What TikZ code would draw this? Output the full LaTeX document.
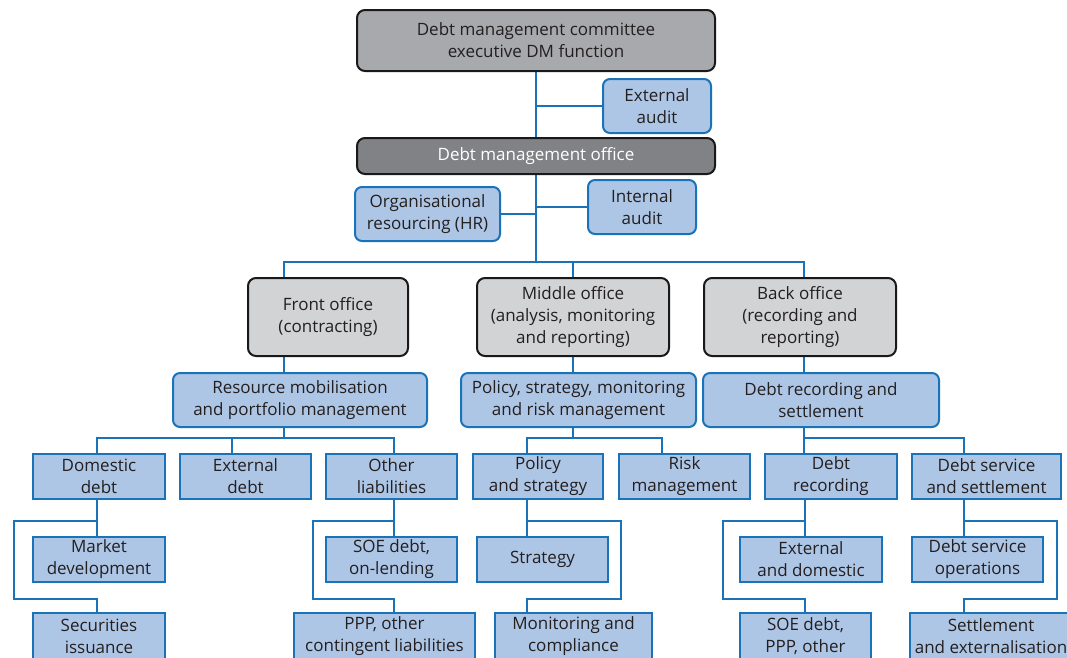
\documentclass[tikz,border=0pt]{standalone}
\usepackage{fontspec}
\setmainfont{Open Sans}
\usetikzlibrary{backgrounds}
\definecolor{lb}{HTML}{AEC6E6}
\definecolor{bl}{HTML}{1A72B8}
\definecolor{ga}{HTML}{A7A9AC}
\definecolor{gb}{HTML}{808285}
\definecolor{gc}{HTML}{D1D3D4}
\definecolor{tx}{HTML}{231F20}
\begin{document}
\begin{tikzpicture}[x=1pt,y=-1pt,
  every node/.style={font=\fontsize{17}{22}\selectfont, align=center, inner sep=0pt, text=tx},
  sbx/.style={draw=bl, fill=lb, line width=2pt},
  rbx/.style={sbx, rounded corners=7pt},
  gbx/.style={draw=black!90, line width=2pt, rounded corners=8pt},
  conn/.style={draw=bl, line width=2.6pt}]
\useasboundingbox (0,0) rectangle (1067,657);
% top
\node[gbx, fill=ga, minimum width=358, minimum height=61] (dmc) at (536,40.5) {Debt management committee\\executive DM function};
\node[rbx, minimum width=108, minimum height=54] (extaudit) at (657,106) {External\\audit};
\node[gbx, fill=gb, text=white, minimum width=358, minimum height=36] (dmo) at (536,156) {Debt management office};
\node[rbx, minimum width=145, minimum height=54] (hr) at (427.5,214) {Organisational\\resourcing (HR)};
\node[rbx, minimum width=108, minimum height=54] (intaudit) at (642,207) {Internal\\audit};
% offices
\node[gbx, fill=gc, minimum width=160, minimum height=78] (front) at (328,317) {Front office\\(contracting)};
\node[gbx, fill=gc, minimum width=192, minimum height=78] (middle) at (573,317) {Middle office\\(analysis, monitoring\\and reporting)};
\node[gbx, fill=gc, minimum width=192, minimum height=78] (back) at (800,317) {Back office\\(recording and\\reporting)};
% functions
\node[rbx, minimum width=254, minimum height=54] (res) at (300,400) {Resource mobilisation\\and portfolio management};
\node[rbx, minimum width=235, minimum height=54] (pol) at (578.5,400) {Policy, strategy, monitoring\\and risk management};
\node[rbx, minimum width=236, minimum height=54] (drs) at (821,400) {Debt recording and\\settlement};
% row 4
\node[sbx, minimum width=132, minimum height=45] (dom) at (99,476.5) {Domestic\\debt};
\node[sbx, minimum width=131, minimum height=45] (ext) at (245.5,476.5) {External\\debt};
\node[sbx, minimum width=131, minimum height=45] (oth) at (391.5,476.5) {Other\\liabilities};
\node[sbx, minimum width=130, minimum height=45] (ps) at (538,476.5) {Policy\\and strategy};
\node[sbx, minimum width=131, minimum height=45] (risk) at (684.5,476.5) {Risk\\management};
\node[sbx, minimum width=132, minimum height=45] (drec) at (831,476.5) {Debt\\recording};
\node[sbx, minimum width=149, minimum height=45] (dss) at (986.5,476.5) {Debt service\\and settlement};
% row 5
\node[sbx, minimum width=132, minimum height=45] (mkt) at (99,559.5) {Market\\development};
\node[sbx, minimum width=131, minimum height=45] (soe) at (391.5,559.5) {SOE debt,\\on-lending};
\node[sbx, minimum width=131, minimum height=45] (strat) at (542.5,559.5) {Strategy};
\node[sbx, minimum width=142, minimum height=45] (extdom) at (811,559.5) {External\\and domestic};
\node[sbx, minimum width=131, minimum height=45] (dso) at (977.5,559.5) {Debt service\\operations};
% row 6
\node[sbx, minimum width=132, minimum height=47] (sec) at (99,636.5) {Securities\\issuance};
\node[sbx, minimum width=181, minimum height=47] (ppp) at (384.5,636.5) {PPP, other\\contingent liabilities};
\node[sbx, minimum width=157, minimum height=47] (mon) at (573.5,636.5) {Monitoring and\\compliance};
\node[sbx, minimum width=131, minimum height=47] (soeb) at (805.5,636.5) {SOE debt,\\PPP, other};
\node[sbx, minimum width=162, minimum height=47] (settle) at (991,636.5) {Settlement\\and externalisation};
\begin{pgfonlayer}{background}
\draw[conn] (dmc.south) -- (dmo.north);
\draw[conn] (extaudit.west) -- (extaudit.west -| dmc.south);
\coordinate (busL) at (284,262);
\coordinate (busR) at (804,262);
\draw[conn] (dmo.south) -- (dmo.south |- busL);
\draw[conn] (hr.east) -- (hr.east -| dmo.south);
\draw[conn] (intaudit.west) -- (intaudit.west -| dmo.south);
\draw[conn] (busL |- front.north) -- (busL) -- (busR) -- (busR |- back.north);
\draw[conn] (middle.north) -- (middle.north |- busL);
\draw[conn] (busL |- front.south) -- (busL |- res.north);
\draw[conn] (middle.south) -- (middle.south |- pol.north);
\draw[conn] (busR |- back.south) -- (busR |- drs.north);
% lower buses
\coordinate (l1) at (97,438);
\coordinate (l2) at (232,438);
\coordinate (l3) at (394,438);
\draw[conn] (busL |- res.south) -- (busL |- l1);
\draw[conn] (l1 |- dom.north) -- (l1) -- (l3) -- (l3 |- oth.north);
\draw[conn] (l2) -- (l2 |- ext.north);
\coordinate (m1) at (527,438);
\coordinate (m2) at (662,438);
\draw[conn] (middle.south |- pol.south) -- (middle.south |- m1);
\draw[conn] (m1 |- ps.north) -- (m1) -- (m2) -- (m2 |- risk.north);
\coordinate (r1) at (804,438);
\coordinate (r2) at (964,438);
\draw[conn] (r1 |- drs.south) -- (r1 |- drec.north);
\draw[conn] (r1) -- (r2) -- (r2 |- dss.north);
% loops
\coordinate (dA) at (97,521); \coordinate (dB) at (97,599); \coordinate (dL) at (14,521);
\draw[conn] (dA |- dom.south) -- (dA) -- (dL) -- (dL |- dB) -- (dB) -- (dB |- sec.north);
\draw[conn] (dA) -- (dA |- mkt.north);
\coordinate (oA) at (394,521); \coordinate (oB) at (394,599); \coordinate (oL) at (313,521);
\draw[conn] (oA |- oth.south) -- (oA) -- (oL) -- (oL |- oB) -- (oB) -- (oB |- ppp.north);
\draw[conn] (oA) -- (oA |- soe.north);
\coordinate (pA) at (527,521); \coordinate (pB) at (527,599); \coordinate (pL) at (621,521);
\draw[conn] (pA |- ps.south) -- (pA) -- (pL) -- (pL |- pB) -- (pB) -- (pB |- mon.north);
\draw[conn] (pA) -- (pA |- strat.north);
\coordinate (rA) at (805,521); \coordinate (rB) at (805,599); \coordinate (rL) at (723,521);
\draw[conn] (rA |- drec.south) -- (rA) -- (rL) -- (rL |- rB) -- (rB) -- (rB |- soeb.north);
\draw[conn] (rA) -- (rA |- extdom.north);
\coordinate (sA) at (964,521); \coordinate (sB) at (964,599); \coordinate (sL) at (1057,521);
\draw[conn] (sA |- dss.south) -- (sA) -- (sL) -- (sL |- sB) -- (sB) -- (sB |- settle.north);
\draw[conn] (sA) -- (sA |- dso.north);
\end{pgfonlayer}
\end{tikzpicture}
\end{document}
